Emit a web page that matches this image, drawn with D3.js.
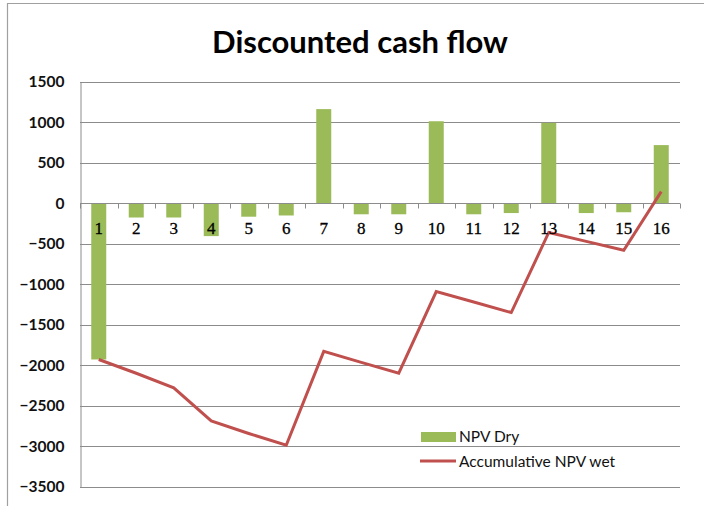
<!DOCTYPE html>
<html><head><meta charset="utf-8">
<script src="https://cdn.jsdelivr.net/npm/d3@7"></script>
<style>body{margin:0;background:#fff}svg{display:block}</style>
</head><body>
<svg id="c" width="704" height="506"></svg>
<script>
const categories = ["1","2","3","4","5","6","7","8","9","10","11","12","13","14","15","16"];
const npvDry = [-1930,-175,-175,-405,-165,-150,1165,-135,-135,1015,-135,-120,995,-120,-110,720];
const accumulativeNpvWet = [-1930,-2100,-2280,-2690,-2845,-2990,-1830,-1965,-2100,-1090,-1220,-1350,-360,-470,-580,145];
const yTicks = [1500,1000,500,0,-500,-1000,-1500,-2000,-2500,-3000,-3500];
const seriesNames = ["NPV Dry","Accumulative NPV wet"];
const chartTitle = "Discounted cash flow";

(function(){
const svg = d3.select("#c");
const pl = 80, pr = 680, pt = 82, pb = 486.5;

// outer frame
svg.append("path").attr("d","M7.5,506 L7.5,3.5 L704,3.5").attr("fill","none").attr("stroke","#a0a0a0").attr("stroke-width",1.2);

svg.append("text").attr("x",360).attr("y",53).attr("text-anchor","middle")
  .attr("font-family","Lato, 'Open Sans', sans-serif").attr("font-weight","bold").attr("font-size",31).attr("fill","#000")
  .text(chartTitle);

const x = d3.scaleBand().domain(categories).range([pl,pr]).paddingInner(0).paddingOuter(0);
const y = d3.scaleLinear().domain([-3500,1500]).range([pb,pt]);

// gridlines
svg.append("g").selectAll("line").data(yTicks).join("line")
  .attr("x1",pl).attr("x2",pr).attr("y1",d=>Math.round(y(d))+0.5).attr("y2",d=>Math.round(y(d))+0.5)
  .attr("stroke","#8c8c8c").attr("stroke-width",1);

// y axis
const yAxis = d3.axisLeft(y).tickValues(yTicks).tickSize(0).tickPadding(16).tickFormat(d3.format("d"));
const ga = svg.append("g").attr("transform",`translate(${pl+0.5},0)`).call(yAxis);
ga.select(".domain").attr("stroke","#8c8c8c");
ga.selectAll("text").attr("font-family","Lato, 'Open Sans', sans-serif").attr("font-weight","bold").attr("font-size",15.5).attr("fill","#111");

// bars
const bw = 15;
svg.append("g").selectAll("rect").data(npvDry).join("rect")
  .attr("x",(d,i)=>x(categories[i])+x.bandwidth()/2-bw/2).attr("width",bw)
  .attr("y",d=>y(Math.max(0,d))).attr("height",d=>Math.abs(y(d)-y(0)))
  .attr("fill","#9bbb59");

// category axis at zero
const y0 = Math.round(y(0))+0.5;
svg.append("line").attr("x1",pl).attr("x2",pr).attr("y1",y0).attr("y2",y0).attr("stroke","#8c8c8c");
const bounds = categories.map(c=>x(c)).concat([pr]);
svg.append("g").selectAll("line").data(bounds).join("line")
  .attr("x1",d=>Math.round(d)+0.5).attr("x2",d=>Math.round(d)+0.5).attr("y1",y0).attr("y2",y0+5).attr("stroke","#8c8c8c");

// line
const line = d3.line().x((d,i)=>x(categories[i])+x.bandwidth()/2).y(d=>y(d));
svg.append("path").datum(accumulativeNpvWet).attr("d",line).attr("fill","none")
  .attr("stroke","#c0504d").attr("stroke-width",3).attr("stroke-linejoin","miter");

// category labels
svg.append("g").selectAll("text").data(categories).join("text")
  .attr("x",d=>x(d)+x.bandwidth()/2).attr("y",y0+30).attr("text-anchor","middle")
  .attr("font-family","'Liberation Serif', 'DejaVu Serif', serif").attr("font-size",17).attr("fill","#000")
  .attr("stroke","#000").attr("stroke-width",0.3)
  .text(d=>d);

// legend
const lg = svg.append("g");
lg.append("rect").attr("x",421).attr("y",432).attr("width",35).attr("height",10).attr("fill","#9bbb59");
lg.append("text").attr("x",459).attr("y",442).attr("font-family","Lato, 'Open Sans', sans-serif").attr("font-size",15.5).attr("fill","#111").text(seriesNames[0]);
lg.append("line").attr("x1",420).attr("x2",456).attr("y1",461).attr("y2",461).attr("stroke","#c0504d").attr("stroke-width",3);
lg.append("text").attr("x",459).attr("y",467).attr("font-family","Lato, 'Open Sans', sans-serif").attr("font-size",15.5).attr("fill","#111").text(seriesNames[1]);
})();
</script>
</body></html>
